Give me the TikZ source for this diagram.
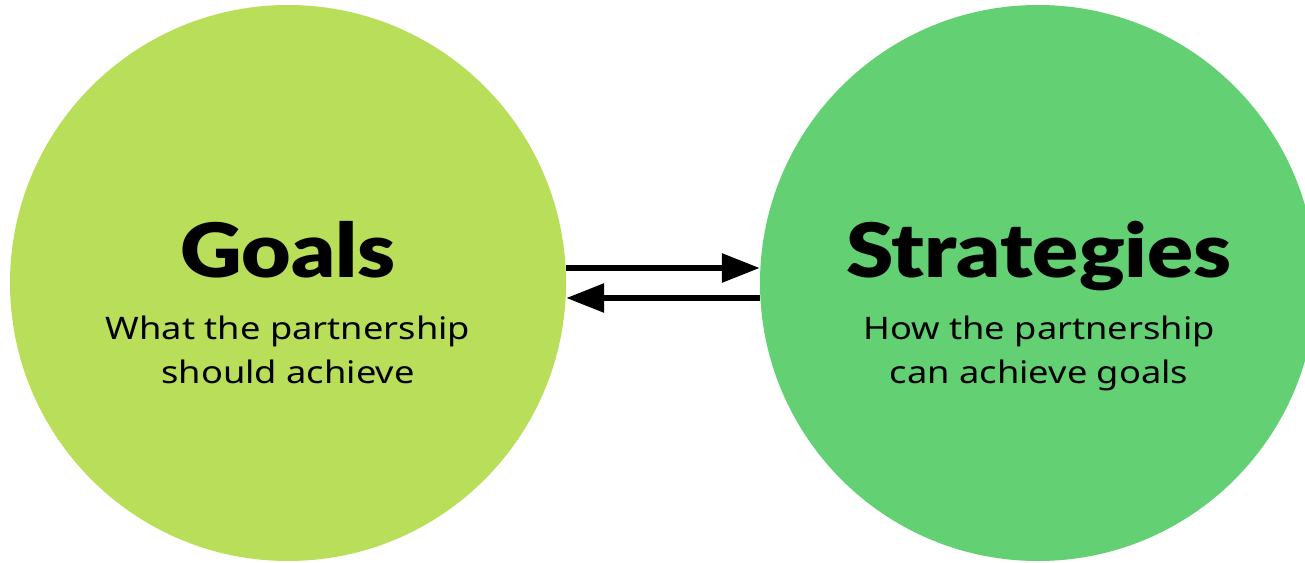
\documentclass[tikz,border=0pt]{standalone}
\usepackage{fontspec}
\setmainfont{Noto Sans}[FakeStretch=1.17]
\newfontfamily\headfont{Lato Black}[FakeStretch=1.14]
\usetikzlibrary{arrows.meta}
\definecolor{goalgreen}{RGB}{184,222,90}
\definecolor{stratgreen}{RGB}{98,208,115}
\tikzset{
  bigcircle/.style={circle,minimum size=556pt,inner sep=0pt,draw=none},
  headtext/.style={font=\headfont\fontsize{75}{80}\selectfont,anchor=base,inner sep=0pt},
  subtext/.style={font=\fontsize{31}{44}\selectfont,align=center,anchor=north,inner sep=0pt},
  flowarrow/.style={line width=6pt,-{Triangle[length=38pt,width=28pt]}}
}
\begin{document}
\begin{tikzpicture}[x=1pt,y=-1pt]
\useasboundingbox (0,0) rectangle (1305,562);
\node[bigcircle,fill=goalgreen] (goals) at (288,283) {};
\node[bigcircle,fill=stratgreen] (strat) at (1038,283) {};
\node[headtext] (goalstitle) at (288,277) {Goals};
\node[headtext] (strattitle) at (1039,277) {Strategies};
\node[subtext] (goalssub) at (288,316) {What the partnership\\should achieve};
\node[subtext] (stratsub) at (1039,316) {How the partnership\\can achieve goals};
\draw[flowarrow] ([yshift=15pt]goals.east) -- ([yshift=15pt]strat.west);
\draw[flowarrow] ([yshift=-15pt]strat.west) -- ([yshift=-15pt]goals.east);
\end{tikzpicture}
\end{document}
